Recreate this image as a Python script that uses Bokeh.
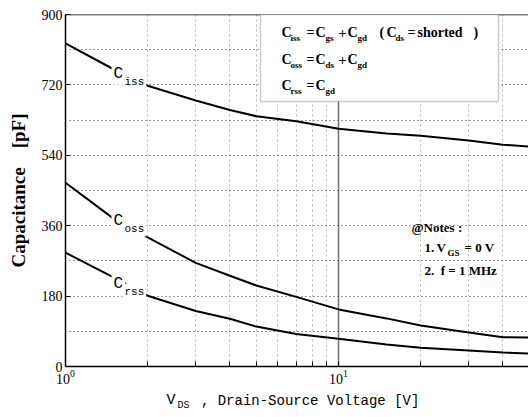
from bokeh.plotting import figure
from bokeh.layouts import column
from bokeh.models import Label, Span, BoxAnnotation, FixedTicker, Range1d
from bokeh.embed import file_html
from bokeh.resources import INLINE

# ---------------- data ----------------
vds = [1, 1.5, 2, 3, 4, 5, 7, 10, 15, 20, 30, 40, 50]
ciss = [826, 760, 718, 680, 656, 640, 627, 608, 596, 590, 578, 567, 562]
coss = [470, 378, 330, 265, 232, 207, 178, 146, 123, 105, 87, 75, 74]
crss = [291, 228, 181, 142, 122, 102, 83, 71, 56, 48, 41, 36, 33]

y_ticks = [0, 180, 360, 540, 720, 900]
y_grid = [90, 180, 270, 360, 450, 540, 630, 720, 810]
x_major = [1, 10]
x_minor = [2, 3, 4, 5, 6, 7, 8, 9, 20, 30, 40]

# ---------------- geometry ----------------
W, H1, H2 = 528, 389, 28
BL, BT, BB = 65, 14, 23
FW, FH = W - BL, H1 - BT - BB
DEC = 273.0
XMAX = 10 ** (FW / DEC)
X0, Y0 = BL, BT  # frame origin in the picture


def dx(px):
    return 10 ** ((px - X0) / DEC)


def dy(py):
    return 900 - (py - Y0) * 900.0 / FH


p = figure(width=W, height=H1, x_axis_type="log",
           x_range=Range1d(1, XMAX), y_range=Range1d(0, 900),
           output_backend="svg", toolbar_location=None,
           min_border_left=BL, min_border_right=0,
           min_border_top=BT, min_border_bottom=BB)
p.outline_line_color = None
p.background_fill_color = "white"

SERIF = "Liberation Serif"
MONO = "Liberation Mono"
NB = "\u00a0"

# axes
p.xaxis.ticker = FixedTicker(ticks=x_major, minor_ticks=x_minor)
p.yaxis.ticker = FixedTicker(ticks=y_ticks, minor_ticks=[])
for ax in (p.xaxis[0], p.yaxis[0]):
    ax.axis_line_color = "black"
    ax.axis_line_width = 1.5
    ax.major_tick_in = 5
    ax.major_tick_out = 0
    ax.minor_tick_in = 5
    ax.minor_tick_out = 0
    ax.major_tick_line_color = "black"
    ax.minor_tick_line_color = "black"
    ax.major_label_text_font = SERIF
    ax.major_label_text_font_size = "14px"
    ax.major_label_text_color = "black"
p.yaxis.major_label_standoff = 3
p.xaxis.major_label_standoff = 3
p.yaxis.axis_label = "Capacitance" + NB * 4 + "[pF]"
p.yaxis.axis_label_text_font = SERIF
p.yaxis.axis_label_text_font_style = "bold"
p.yaxis.axis_label_text_font_size = "19px"
p.yaxis.axis_label_text_color = "black"
p.yaxis.axis_label_standoff = 10

# grids
p.ygrid.ticker = FixedTicker(ticks=y_grid)
p.ygrid.grid_line_color = "#333333"
p.ygrid.grid_line_dash = "1 3"
p.ygrid.grid_line_width = 1
p.xgrid.grid_line_color = "#707070"
p.xgrid.grid_line_width = 1.5
p.xgrid.minor_grid_line_color = "#b5b5b5"
p.xgrid.minor_grid_line_dash = "2 3"
p.xgrid.minor_grid_line_width = 1

p.add_layout(Span(location=900, dimension="width", line_color="black", line_width=1.5))

# curves
for ys in (ciss, coss, crss):
    p.line(vds, ys, line_color="black", line_width=2)


def put(fig, text, x, y, size, font=SERIF, style="bold", bg=False):
    kw = {}
    if bg:
        kw = dict(background_fill_color="white", background_fill_alpha=1.0, padding=2)
    fig.add_layout(Label(x=x, y=y, text=text, text_font=font,
                         text_font_size=f"{size}px", text_font_style=style,
                         text_baseline="middle", text_align="left",
                         text_color="black", **kw))


def putp(text, px, py, size, font=SERIF, style="bold", bg=False):
    put(p, text, dx(px), dy(py), size, font, style, bg)


# curve labels
for name, py in (("iss", 73), ("oss", 220), ("rss", 283)):
    putp("C", 111, py, 16, MONO, "normal", bg=True)
    putp(name, 122, py + 8, 11, MONO, "normal", bg=True)

# definition box
p.add_layout(BoxAnnotation(left=dx(260), right=dx(498), bottom=dy(101), top=900,
                           fill_color="white", fill_alpha=1.0,
                           line_color="#555555", line_width=1.5))
M, S = 14, 9
line1 = [("C", 281, 0), ("iss", 290, 1), ("=", 306, 0), ("C", 315, 0), ("gs", 325, 1),
         ("+", 338, 0), ("C", 347, 0), ("gd", 357, 1), ("(", 379, 0), ("C", 386, 0),
         ("ds", 395, 1), ("=", 407, 0), ("shorted", 417, 0), (")", 473, 0)]
line2 = [("C", 281, 0), ("oss", 290, 1), ("=", 306, 0), ("C", 315, 0), ("ds", 325, 1),
         ("+", 338, 0), ("C", 347, 0), ("gd", 357, 1)]
line3 = [("C", 281, 0), ("rss", 290, 1), ("=", 306, 0), ("C", 315, 0), ("gd", 325, 1)]
for pieces, py in ((line1, 32), (line2, 59), (line3, 85)):
    for t, px, sub in pieces:
        if sub:
            putp(t, px, py + 5, S)
        else:
            putp(t, px, py, M)

# notes
putp("@Notes :", 411, 227, 13)
putp("1.", 424, 247, 13)
putp("V", 436, 247, 13)
putp("GS", 447, 252, 9)
putp("= 0 V", 464, 247, 13)
putp("2." + NB * 2 + "f = 1 MHz", 424, 270, 13)

# x axis title, in a strip under the chart (its frame is aligned with the chart's)
t = figure(width=W, height=H2, x_range=Range1d(BL, W), y_range=Range1d(H1 + H2, H1),
           output_backend="svg", toolbar_location=None,
           x_axis_location=None, y_axis_location=None,
           min_border=0, min_border_left=BL, min_border_right=0,
           min_border_top=0, min_border_bottom=0)
t.outline_line_color = None
t.xgrid.visible = False
t.ygrid.visible = False
put(t, "V", 166, 400, 15, MONO, "normal")
put(t, "DS", 177, 405, 10, MONO, "normal")
put(t, NB + "," + NB + "Drain-Source Voltage [V]", 192, 400, 14, MONO, "normal")

layout = column(p, t, spacing=0)
open("out.html", "w").write(file_html(layout, INLINE))
